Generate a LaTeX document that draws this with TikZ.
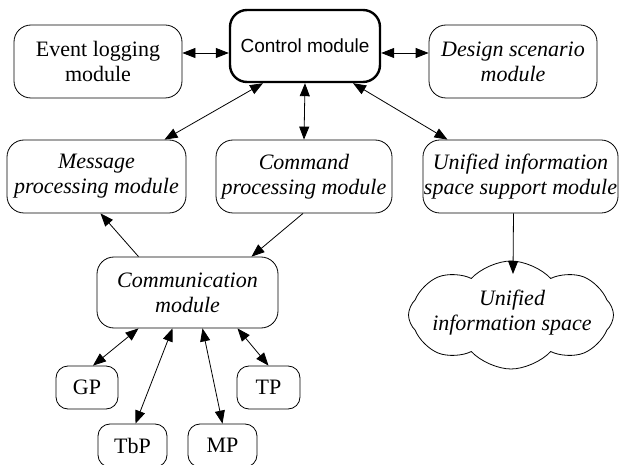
\documentclass[tikz,border=0pt]{standalone}
\usepackage{fontspec}
\setmainfont{Liberation Serif}
\setsansfont{Liberation Sans}
\usetikzlibrary{arrows.meta,shapes.symbols}

\begin{document}
\begin{tikzpicture}[x=1pt,y=-1pt,>={Triangle[length=13pt,width=10pt]}]
        \useasboundingbox (0,0) rectangle (619,465);

        \begin{scope}[every node/.style={draw,line width=0.8pt,rounded corners=17pt,align=center,inner sep=1pt,
            minimum height=73pt,font=\fontsize{22}{25}\selectfont}]
          \node[line width=2.4pt,minimum width=150pt,minimum height=72pt,
            font=\sffamily\fontsize{19}{22}\selectfont] (control) at (305,46) {Control module};
          \node[minimum width=168pt] (event)   at (98,61.5)   {Event logging\\module};
          \node[minimum width=168pt] (design)  at (513,61.5)  {\itshape Design scenario\\\itshape module};
          \node[minimum width=179pt] (message) at (96.5,176.5) {\itshape Message\\\itshape processing module};
          \node[minimum width=176pt] (command) at (304,176.5) {\itshape Command\\\itshape processing module};
          \node[minimum width=195pt] (support) at (520.5,176.5) {\itshape Unified information\\\itshape space support module};
          \node[minimum width=181pt,minimum height=71pt] (comm) at (187.5,292.5) {\itshape Communication\\\itshape module};
        \end{scope}

        \begin{scope}[every node/.style={draw,line width=0.8pt,rounded corners=12pt,inner sep=1pt,
            minimum height=43pt,font=\fontsize{22}{25}\selectfont}]
          \node[minimum width=62pt] (gp)  at (87,387.5)  {GP};
          \node[minimum width=63pt] (tp)  at (268.5,387.5) {TP};
          \node[minimum width=69pt] (tbp) at (132.5,445.5) {TbP};
          \node[minimum width=69pt] (mp)  at (222.5,445.5) {MP};
        \end{scope}

        \node[cloud,draw,line width=0.8pt,cloud puffs=8,cloud puff arc=95,cloud ignores aspect,
          minimum width=205pt,minimum height=108pt] (space) at (511,315) {};
        \node[align=center,font=\fontsize{22}{25}\selectfont\itshape] (spacetext) at (512,313)
          {Unified\\information space};

        \begin{scope}[every edge/.style={draw,line width=0.8pt}]
          \path ([yshift=8.5pt]event.east)   edge[<->] ([yshift=-7pt]control.west);
          \path ([yshift=-7pt]control.east)  edge[<->] ([yshift=8.5pt]design.west);
          \path ([xshift=-42pt]control.south) edge[<->] ([xshift=68pt]message.north);
          \path (control.south)               edge[<->] (command.north);
          \path ([xshift=48pt]control.south)  edge[<->] ([xshift=-73pt]support.north);
          \path ([xshift=-49pt]comm.north)    edge[->]  ([xshift=4pt]message.south);
          \path ([xshift=-1pt]command.south)  edge[->]  ([xshift=64pt]comm.north);
          \path ([xshift=-7pt]support.south)  edge[->]  ([xshift=2pt,yshift=41pt]space.center);
          \path ([xshift=-49pt]comm.south)    edge[<->] ([xshift=6pt]gp.north);
          \path ([xshift=-15pt]comm.south)    edge[<->] ([xshift=3pt]tbp.north);
          \path ([xshift=15pt]comm.south)     edge[<->] (mp.north);
          \path ([xshift=50pt]comm.south)     edge[<->] (tp.north);
        \end{scope}

      \end{tikzpicture}
\end{document}
